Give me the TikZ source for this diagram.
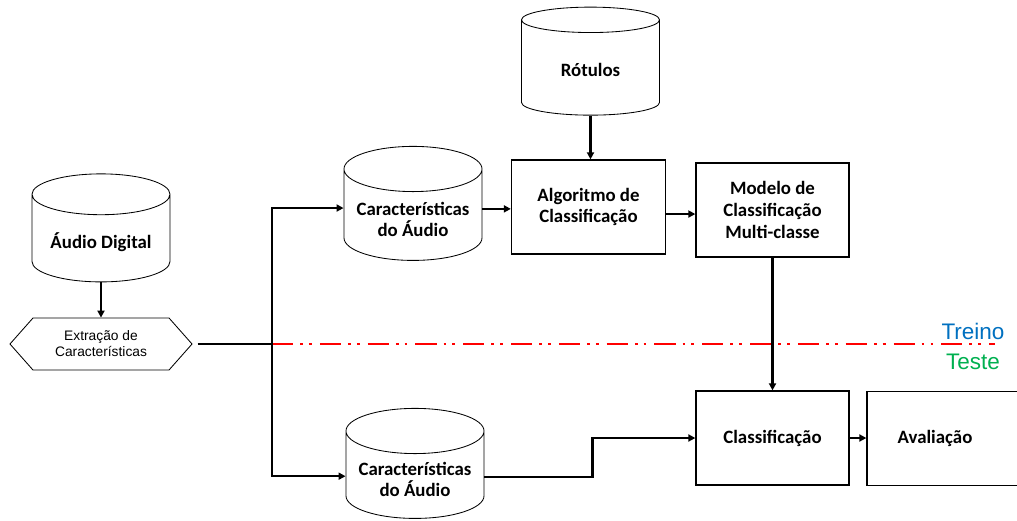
\documentclass[tikz,border=0pt]{standalone}
\usepackage{fontspec}
\setmainfont{Carlito}
\newfontfamily\arialfont{Liberation Sans}
\usetikzlibrary{shapes.geometric,shapes.symbols,arrows.meta}
\definecolor{treinoazul}{RGB}{0,112,192}
\definecolor{testeverde}{RGB}{0,176,80}

\begin{document}
\begin{tikzpicture}[x=0.025cm,y=-0.025cm,
  caixa/.style={draw,line width=0.9pt,minimum width=3.85cm,minimum height=2.35cm,
    align=center,font=\fontsize{13.4}{15.5}\selectfont\bfseries},
  banco/.style={cylinder,shape border rotate=90,draw,line width=0.6pt,aspect=0.37,
    minimum width=3.45cm,minimum height=2.7cm,align=center,
    font=\fontsize{13.4}{15}\selectfont\bfseries},
  seta/.style={line width=1.6pt,-{Triangle[length=5pt,width=5pt]}},
  linha/.style={line width=1.6pt}]
  \useasboundingbox (0,0) rectangle (1017,520);
  \clip (0,0) rectangle (1017,520);

  \node[banco] (rot) at (590.5,70) {Rótulos};
  \node[banco] (aud) at (101,242) {Áudio Digital};
  \node[draw,line width=0.6pt,signal,signal to=west and east,signal pointer angle=97,
    minimum width=4.55cm,minimum height=1.3cm,align=center,
    font=\arialfont\fontsize{9.8}{11.4}\selectfont] (ext) at (101,344)
    {Extração de\\Características};
  \node[banco,minimum height=2.85cm] (car1) at (413,219) {Características\\do Áudio};
  \node[banco,minimum height=2.75cm] (car2) at (415,479) {Características\\do Áudio};

  \node[caixa] (alg) at (588.5,207) {Algoritmo de\\Classificação};
  \node[caixa,minimum width=3.825cm] (mod) at (772.5,210) {Modelo de\\Classificação\\Multi-classe};
  \node[caixa,minimum width=3.825cm] (cls) at (772.5,438) {Classificação};
  \node[caixa,minimum width=3.95cm] (ava) at (946,438.5) {};
  \node[font=\fontsize{13.4}{15.5}\selectfont\bfseries] (avatxt) at (935,438.5) {Avaliação};

  \node[font=\arialfont\fontsize{16}{18}\selectfont,text=treinoazul] (treino) at (973,331) {Treino};
  \node[font=\arialfont\fontsize{16}{18}\selectfont,text=testeverde] (teste) at (973,362) {Teste};

  \coordinate (split) at (272,344);
  \coordinate (fim) at (995,344);
  % treino / teste
  \draw[red,line width=2.1pt,dash pattern=on 15pt off 5pt on 2pt off 4.3pt on 2pt off 5.7pt]
    (split) -- (fim);

  \draw[seta] (rot.south) -- (rot.south |- alg.north);
  \draw[seta] (aud.south) -- (ext.north);
  \draw[linha] ([xshift=3.5pt]ext.east) -- (ext.east -| split);
  \draw[seta] (split) |- ([yshift=7.8pt]car1.west);
  \draw[seta] (split) |- ([yshift=2pt]car2.west);
  \draw[seta] ([yshift=7.2pt]car1.east) -- ([yshift=7.2pt]car1.east -| alg.west);
  \draw[seta] ([yshift=-5pt]alg.east) -- ([yshift=-5pt]alg.east -| mod.west);
  \draw[seta] (mod.south) -- (mod.south |- cls.north);
  \draw[seta] ([yshift=1.5pt]car2.east) -- ++(108,0) |- (cls.west);
  \draw[seta] (cls.east) -- (cls.east -| ava.west);
\end{tikzpicture}
\end{document}
